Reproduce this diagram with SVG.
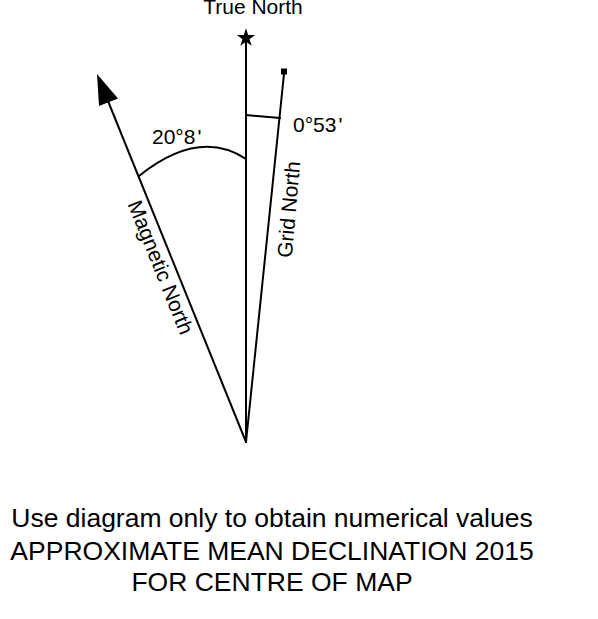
<svg xmlns="http://www.w3.org/2000/svg" width="598" height="619" viewBox="0 0 598 619">
<style>
.ln{stroke:#000;stroke-width:2;fill:none;stroke-linecap:round}
.lbl{font-family:"Liberation Sans",Arial,sans-serif;font-size:21px;fill:#000}
.cap{font-family:"Liberation Sans",Arial,sans-serif;font-size:26.5px;fill:#000;text-anchor:middle}
</style>
<rect width="598" height="619" fill="#fff"/>
<g id="connectors">
<line id="true-line" class="ln" x1="246" y1="442" x2="246" y2="40"/>
<line id="grid-line" class="ln" x1="246" y1="442" x2="284.2" y2="72"/>
<line id="mag-line" class="ln" x1="246" y1="442" x2="108" y2="101"/>
<path id="mag-arc" class="ln" d="M139,176 Q199,128 246,159"/>
<line id="grid-tick" class="ln" x1="246" y1="115" x2="280" y2="118"/>
</g>
<g id="true-north">
<polygon points="246,28.3 248.2,35 255.2,35 249.5,39.2 251.7,45.8 246,41.7 240.3,45.8 242.5,39.2 236.8,35 243.8,35" fill="#000"/>
<text class="lbl" x="253" y="14" text-anchor="middle">True North</text>
</g>
<g id="grid-north">
<rect x="281" y="68.5" width="6" height="6" fill="#000"/>
<text class="lbl" x="296" y="210" text-anchor="middle" transform="rotate(-85 296 210)">Grid North</text>
<text class="lbl" x="293" y="132">0°53<tspan dx="2">'</tspan></text>
</g>
<g id="magnetic-north">
<polygon points="97,74 118,98.5 99,106" fill="#000"/>
<text class="lbl" x="154" y="270" text-anchor="middle" transform="rotate(68 154 270)">Magnetic North</text>
<text class="lbl" x="152" y="144">20°8<tspan dx="2">'</tspan></text>
</g>
<g id="caption">
<text class="cap" x="272" y="527">Use diagram only to obtain numerical values</text>
<text class="cap" x="272" y="560">APPROXIMATE MEAN DECLINATION 2015</text>
<text class="cap" x="272" y="591">FOR CENTRE OF MAP</text>
</g>
</svg>
